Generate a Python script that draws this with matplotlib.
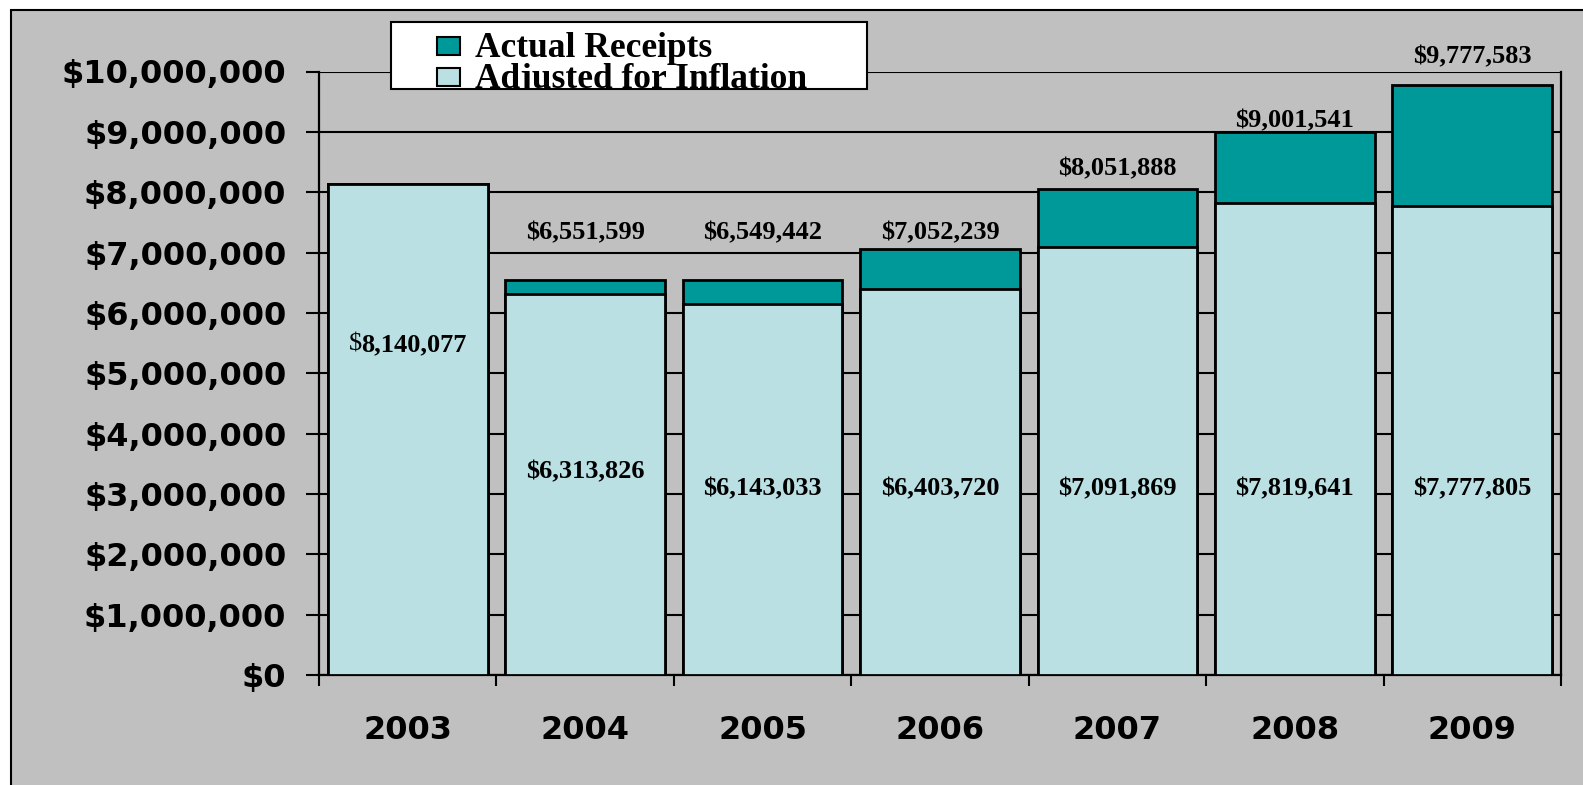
import matplotlib
matplotlib.use("Agg")
import matplotlib.pyplot as plt
from matplotlib.patches import Rectangle
from matplotlib.ticker import FixedLocator, FuncFormatter

# data
years = ["2003", "2004", "2005", "2006", "2007", "2008", "2009"]
actual = [8140077, 6551599, 6549442, 7052239, 8051888, 9001541, 9777583]
adjusted = [8140077, 6313826, 6143033, 6403720, 7091869, 7819641, 7777805]

# where the value labels sit (baseline, in data units) - placed by hand in the original
top_label_y = [None, 7.224e6, 7.224e6, 7.224e6, 8.285e6, 9.080e6, 10.141e6]
inner_label_y = [5.369e6, 3.264e6, 2.983e6, 2.983e6, 2.983e6, 2.983e6, 2.983e6]

teal = "#009999"
light = "#BAE0E3"
gray = "#C0C0C0"

W, H = 1583, 785


def fx(px):
    return px / W


def fy(py):
    return 1 - py / H


fig = plt.figure(figsize=(W / 100, H / 100), dpi=100)
fig.patch.set_facecolor("white")

# gray chart area with black border
bg = Rectangle((fx(11), fy(H + 20)), 1.2, fy(10) - fy(H + 20), transform=fig.transFigure,
               facecolor=gray, edgecolor="black", lw=1.5, zorder=-5)
fig.add_artist(bg)

ax = fig.add_axes([fx(319), fy(675), fx(1561) - fx(319), fy(71.5) - fy(675)])
ax.set_facecolor("none")

x = list(range(len(years)))
ax.bar(x, actual, width=0.9, color=teal, edgecolor="black", lw=2, zorder=2)
ax.bar(x, adjusted, width=0.9, color=light, edgecolor="black", lw=2, zorder=3)

ax.set_xlim(-0.5, len(years) - 0.5)
ax.set_ylim(0, 10_000_000)

ax.set_yticks(range(0, 10_000_001, 1_000_000))
ax.yaxis.set_major_formatter(FuncFormatter(lambda v, p: "${:,.0f}".format(v)))
ax.grid(axis="y", color="black", lw=1.5, zorder=0)
ax.set_axisbelow(True)

ax.xaxis.set_major_locator(FixedLocator([i - 0.5 for i in range(len(years) + 1)]))
ax.xaxis.set_minor_locator(FixedLocator(x))
ax.set_xticklabels([], minor=False)
ax.set_xticklabels(years, minor=True)
ax.tick_params(axis="x", which="major", length=8, width=1.5, direction="out")
ax.tick_params(axis="x", which="minor", length=0, pad=29)
ax.tick_params(axis="y", length=9.5, width=1.5, direction="out", pad=14)

for lab in ax.get_yticklabels() + ax.get_xticklabels(minor=True):
    lab.set_fontfamily("DejaVu Sans")
    lab.set_fontweight("bold")
    lab.set_fontsize(23)

for s in ["left", "right", "bottom"]:
    ax.spines[s].set_linewidth(1.6)
ax.spines["top"].set_visible(False)

serif = dict(family="Liberation Serif", weight="bold", fontsize=19)

for i in x:
    if top_label_y[i] is not None:
        ax.text(i, top_label_y[i], "${:,}".format(actual[i]), ha="center", va="baseline",
                zorder=6, **serif)
    if i == 0:
        # first label has a plain dollar sign, the digits are bold
        t = ax.annotate("{:,}".format(adjusted[i]), xy=(i, inner_label_y[i]),
                        xytext=(4.75, 0), textcoords="offset points",
                        ha="center", va="baseline", zorder=6, **serif)
        ax.annotate("$", xy=(0, 0), xycoords=t, ha="right", va="bottom",
                    family="Liberation Serif", fontsize=19, zorder=6)
    else:
        ax.text(i, inner_label_y[i], "${:,}".format(adjusted[i]), ha="center", va="baseline",
                zorder=6, **serif)

# legend box, drawn by hand so it can sit over the top gridline
box = Rectangle((fx(391), fy(89)), fx(867) - fx(391), fy(22) - fy(89), transform=fig.transFigure,
                facecolor="white", edgecolor="black", lw=1.5, zorder=10)
fig.add_artist(box)
legend_items = [("Actual Receipts", teal, 37, 57), ("Adjusted for Inflation", light, 68, 88)]
for label, col, top, base in legend_items:
    sq = Rectangle((fx(437), fy(top + 18)), fx(460) - fx(437), fy(top) - fy(top + 18),
                   transform=fig.transFigure, facecolor=col, edgecolor="black", lw=1.5, zorder=11)
    fig.add_artist(sq)
    t = fig.text(fx(475), fy(base), label, ha="left", va="baseline", family="Liberation Serif",
                 weight="bold", fontsize=25.5, zorder=11)
    t.set_clip_path(box)

fig.savefig("out.png", dpi=100)
